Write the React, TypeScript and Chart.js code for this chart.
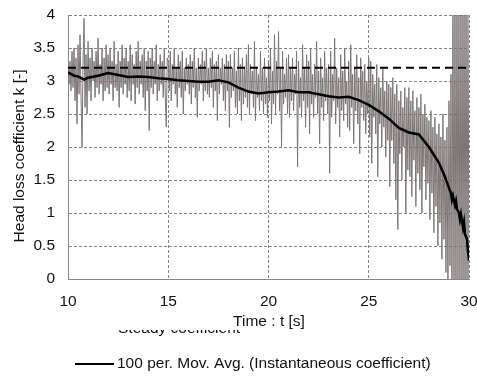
import React, { useEffect, useRef } from "react";
import { Chart, registerables } from "chart.js";

Chart.register(...registerables);

// Instantaneous coefficient, sampled every 0.05 s from 10.00 s to 30.00 s
const INST_T0 = 10;
const INST_DT = 0.05;
const INST_K = [
  3.25, 2.95, 3.3, 2.85, 3.45, 2.9, 3.5, 2.7, 3.35, 2.35, 3.55, 2.8, 3.7, 2.75, 2.0, 3.3, 3.95, 2.6, 3.4, 2.5,
  3.6, 2.85, 3.35, 2.7, 3.5, 3.0, 3.3, 2.75, 3.45, 2.9, 3.65, 2.8, 3.25, 2.95, 3.5, 2.7, 3.35, 2.85, 3.55, 2.9,
  3.4, 2.8, 3.5, 2.95, 3.3, 2.7, 3.6, 2.9, 3.25, 2.85, 3.45, 2.6, 3.3, 2.9, 3.55, 2.8, 3.35, 2.95, 3.5, 2.75,
  3.3, 2.85, 3.55, 2.7, 3.4, 2.95, 3.25, 2.65, 3.45, 2.9, 3.6, 2.8, 3.3, 2.95, 3.4, 2.75, 3.5, 2.55, 3.3, 2.85,
  3.45, 2.25, 3.35, 2.9, 3.5, 2.8, 3.3, 2.95, 3.55, 2.7, 3.25, 2.85, 3.4, 2.95, 3.3, 2.75, 3.5, 2.8, 2.3, 3.35,
  3.3, 2.85, 3.45, 2.7, 3.25, 2.95, 3.5, 2.8, 3.2, 2.6, 3.4, 2.9, 3.3, 2.75, 3.45, 2.5, 3.2, 2.85, 3.35, 2.95,
  3.25, 2.8, 3.4, 2.65, 3.3, 2.9, 3.5, 2.75, 3.2, 2.45, 3.35, 2.85, 3.25, 2.95, 3.45, 2.7, 3.3, 2.85, 3.5, 2.8,
  3.2, 2.75, 3.35, 2.9, 3.45, 2.6, 3.25, 2.85, 3.3, 2.4, 3.4, 2.8, 3.2, 2.95, 3.35, 2.7, 3.25, 2.55, 3.4, 2.85,
  3.3, 2.3, 3.4, 2.75, 3.2, 2.85, 3.45, 2.6, 3.15, 2.5, 3.5, 2.7, 3.25, 2.4, 3.35, 2.65, 3.2, 2.75, 3.4, 2.6,
  3.55, 2.5, 3.25, 2.8, 3.15, 2.6, 3.6, 2.4, 3.2, 2.75, 3.1, 2.55, 3.45, 2.7, 3.2, 2.5, 3.35, 2.65, 3.05, 2.45,
  3.3, 2.7, 3.5, 2.35, 3.15, 2.65, 3.7, 2.5, 3.3, 2.8, 3.75, 2.55, 3.2, 2.0, 3.45, 2.65, 3.1, 2.75, 3.35, 2.5,
  3.4, 2.45, 3.2, 2.7, 3.35, 2.55, 3.1, 2.8, 3.45, 1.7, 3.3, 2.6, 3.05, 2.45, 3.55, 2.7, 3.2, 2.3, 3.4, 2.6,
  3.3, 2.2, 3.5, 2.65, 3.1, 2.45, 3.25, 2.75, 3.6, 2.5, 3.15, 2.05, 3.35, 2.6, 3.05, 2.4, 3.45, 2.7, 3.2, 2.5,
  3.25, 1.6, 3.45, 2.45, 3.1, 2.7, 3.65, 2.35, 3.2, 2.6, 3.05, 2.15, 3.4, 2.55, 3.15, 2.4, 3.5, 2.65, 3.0, 2.3,
  3.3, 2.25, 3.55, 2.6, 3.1, 2.05, 3.2, 2.55, 3.4, 2.35, 3.05, 1.9, 3.35, 2.6, 3.15, 2.4, 3.25, 2.2, 3.0, 2.5,
  3.35, 2.15, 3.3, 1.75, 3.1, 2.45, 2.95, 2.2, 3.25, 1.55, 3.05, 2.35, 2.9, 2.0, 3.2, 2.3, 2.85, 1.85, 3.0, 2.1,
  2.95, 1.4, 2.9, 2.1, 3.05, 1.75, 2.8, 1.2, 2.95, 0.75, 2.7, 1.9, 2.85, 1.5, 2.6, 2.0, 2.9, 1.0, 2.75, 1.65,
  2.9, 1.55, 2.7, 1.25, 2.85, 1.8, 2.55, 1.1, 2.75, 1.6, 2.6, 1.35, 2.8, 1.0, 2.5, 1.7, 2.65, 1.2, 2.45, 1.45,
  2.4, 0.9, 2.55, 1.3, 2.3, 0.7, 2.45, 1.1, 2.2, 0.5, 2.35, 0.85, 2.15, 0.3, 2.5, 0.6, 2.1, 0.1, 2.3, -0.2,
  2.7, 0.2, 3.1, -0.2, 4.3, -0.3, 4.2, -0.3, 4.4, -0.2, 4.3, -0.3, 4.2, -0.2, 4.4, -0.3, 4.3, -0.2, 4.4, -0.3,
  4.2,
];

// 100-period moving average
const MA_T = [
  10, 10.3, 10.5, 10.8, 11, 11.5, 12, 12.5, 13, 13.5, 14, 14.5, 15, 15.5, 16,
  16.5, 17, 17.5, 18, 18.5, 19, 19.5, 20, 20.5, 21, 21.5, 22, 22.5, 23, 23.5,
  24, 24.5, 25, 25.5, 26, 26.5, 27, 27.5, 28, 28.5, 28.8, 29, 29.1, 29.15,
  29.2, 29.3, 29.35, 29.4, 29.5, 29.55, 29.6, 29.7, 29.75, 29.8, 29.9, 29.95, 30,
];
const MA_K = [
  3.13, 3.08, 3.07, 3.02, 3.05, 3.08, 3.12, 3.09, 3.06, 3.07, 3.06, 3.04, 3.03,
  3.01, 3.0, 2.99, 2.99, 3.01, 2.98, 2.9, 2.84, 2.81, 2.83, 2.84, 2.86, 2.83,
  2.83, 2.8, 2.77, 2.75, 2.76, 2.71, 2.64, 2.54, 2.43, 2.29, 2.22, 2.19, 2.0,
  1.76, 1.55, 1.38, 1.3, 1.2, 1.26, 1.12, 1.18, 1.06, 1.0, 0.9, 0.98, 0.78,
  0.86, 0.68, 0.6, 0.42, 0.28,
];

const STEADY_K = 3.2;
const X_MIN = 10;
const X_MAX = 30;
const Y_MIN = 0;
const Y_MAX = 4;

const X_TITLE = "Time : t [s]";
const Y_TITLE = "Head loss coefficient k [-]";
const LEGEND_STEADY = "Steady coefficient";
const LEGEND_MA = "100 per. Mov. Avg. (Instantaneous coefficient)";

const FONT = "Liberation Sans, Arial, sans-serif";
const FS = 15.5;

export default function App() {
  const ref = useRef<HTMLCanvasElement | null>(null);

  useEffect(() => {
    if (!ref.current) return;
    const instData = INST_K.map((k, i) => ({ x: INST_T0 + i * INST_DT, y: k }));
    const maData = MA_T.map((t, i) => ({ x: t, y: MA_K[i] }));
    const steadyData = [
      { x: X_MIN, y: STEADY_K },
      { x: X_MAX, y: STEADY_K },
    ];

    const textPlugin = {
      id: "texts",
      afterDraw(chart: any) {
        const ctx = chart.ctx as CanvasRenderingContext2D;
        ctx.save();
        ctx.fillStyle = "#111";
        ctx.font = `${FS}px ${FONT}`;
        ctx.textAlign = "center";
        ctx.textBaseline = "middle";
        ctx.fillText(X_TITLE, 269, 322);
        ctx.save();
        ctx.translate(20, 156);
        ctx.rotate(-Math.PI / 2);
        ctx.fillText(Y_TITLE, 0, 0);
        ctx.restore();
        // legend entry mostly hidden behind the axis title
        ctx.save();
        ctx.beginPath();
        ctx.rect(0, 330, 477, 16);
        ctx.clip();
        ctx.textAlign = "left";
        ctx.textBaseline = "alphabetic";
        ctx.fillText(LEGEND_STEADY, 118, 333);
        ctx.restore();
        // moving average legend entry
        ctx.strokeStyle = "#000";
        ctx.lineWidth = 2;
        ctx.beginPath();
        ctx.moveTo(75, 364);
        ctx.lineTo(114, 364);
        ctx.stroke();
        ctx.textAlign = "left";
        ctx.textBaseline = "middle";
        ctx.fillText(LEGEND_MA, 117, 364);
        ctx.restore();
      },
    };

    const chart = new Chart(ref.current, {
      type: "line",
      data: {
        datasets: [
          {
            label: LEGEND_MA,
            data: maData,
            borderColor: "#000",
            borderWidth: 2.5,
            pointRadius: 0,
            tension: 0,
          },
          {
            label: LEGEND_STEADY,
            data: steadyData,
            borderColor: "#000",
            borderWidth: 2,
            borderDash: [8, 5],
            pointRadius: 0,
          },
          {
            label: "Instantaneous coefficient",
            data: instData,
            borderColor: "#7d7575",
            borderWidth: 1,
            pointRadius: 0,
            tension: 0,
          },
        ],
      },
      options: {
        animation: false,
        responsive: false,
        layout: { padding: { left: 0, right: 8, top: 15, bottom: 0 } },
        plugins: {
          legend: { display: false },
          tooltip: { enabled: false },
        },
        scales: {
          x: {
            type: "linear",
            min: X_MIN,
            max: X_MAX,
            afterFit(scale: any) {
              scale.height = 97;
              scale.paddingRight = 0;
              scale.paddingLeft = 0;
            },
            ticks: {
              stepSize: 5,
              padding: 13,
              maxRotation: 0,
              color: "#111",
              font: { family: FONT, size: FS },
            },
            grid: { color: "#858585", lineWidth: 1, drawTicks: false },
            border: { color: "#858585", width: 1, dash: [3, 2] },
          },
          y: {
            min: Y_MIN,
            max: Y_MAX,
            afterFit(scale: any) {
              scale.width = 68;
              scale.paddingTop = 0;
              scale.paddingBottom = 0;
            },
            ticks: {
              stepSize: 0.5,
              padding: 13,
              color: "#111",
              font: { family: FONT, size: FS },
              callback: (v: any) => String(Number(v)),
            },
            grid: { color: "#858585", lineWidth: 1, drawTicks: false },
            border: { color: "#858585", width: 1, dash: [3, 2] },
          },
        },
      },
      plugins: [textPlugin],
    });
    return () => chart.destroy();
  }, []);

  return (
    <canvas
      ref={ref}
      width={477}
      height={376}
      style={{ position: "fixed", left: 0, top: 0, width: 477, height: 376 }}
    />
  );
}
